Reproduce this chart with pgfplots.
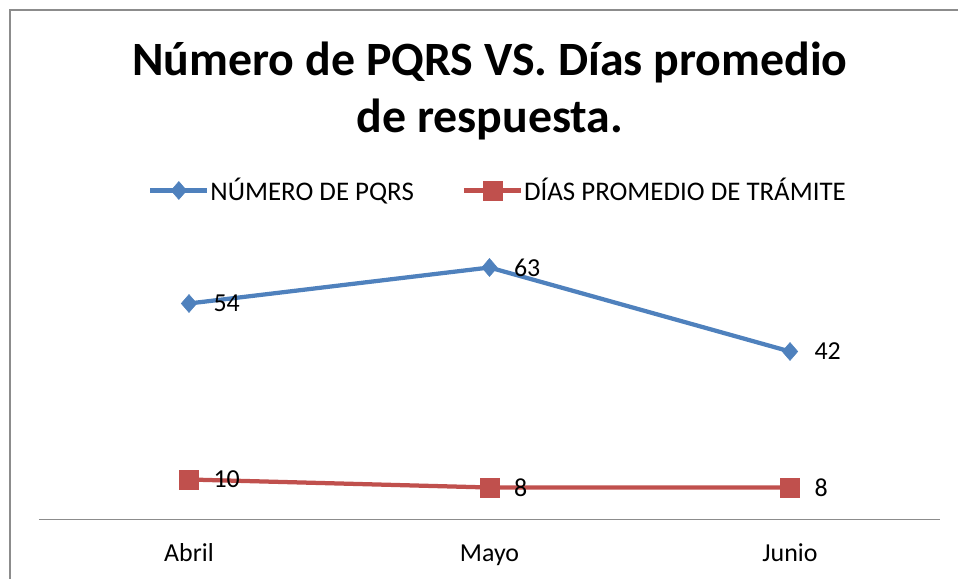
\documentclass[border=0pt]{standalone}
\usepackage{fontspec}
\setmainfont{Carlito}
\usepackage{pgfplots}
\pgfplotsset{compat=1.18}
\definecolor{cblue}{HTML}{4F81BD}
\definecolor{cred}{HTML}{C0504D}
\definecolor{framegray}{HTML}{8C8C8C}
\begin{document}
\begin{tikzpicture}[x=1bp,y=1bp]
\draw[color=framegray, line width=1.5bp] (10,-620) -- (10,-10) -- (990,-10);
\node[font=\fontsize{48}{58}\selectfont\bfseries, align=center] at (490,-91) {Número de PQRS VS. Días promedio\\de respuesta.};
\coordinate (O) at (38.75,-519.5);
\begin{axis}[
  at={(O)}, anchor=south west,
  x=300.5bp, y=4bp,
  xmin=-0.5, xmax=2.5, ymin=0, ymax=70,
  axis x line=bottom, axis y line=none,
  axis line style={-, draw=framegray, line width=1.5bp},
  xtick={0,1,2}, xticklabels={Abril,Mayo,Junio},
  major tick length=0pt,
  xticklabel style={anchor=base, yshift=-41.5bp, font=\fontsize{26}{30}\selectfont},
  clip=false,
  /pgf/number format/assume math mode=true,
  nodes near coords,
  every node near coord/.append style={anchor=west, xshift=21bp, text=black, font=\fontsize{26}{30}\selectfont},
  legend columns=2,
  legend style={at={(0.1212,1.175)}, anchor=west, draw=none, fill=none, inner sep=0pt,
    font=\fontsize{27}{32}\selectfont,
    nodes={inner sep=1bp},
    /tikz/every even column/.append style={column sep=47bp}},
  legend image code/.code={\draw[mark repeat=2,mark phase=2,#1] plot coordinates {(0bp,0bp) (28.5bp,0bp) (57bp,0bp)};},
]
\addplot[color=cblue, line width=4.25bp, mark=diamond*, mark size=9bp, mark options={solid, xscale=1.15, line width=0.5bp, fill=cblue}] coordinates {(0,54) (1,63) (2,42)};
\addlegendentry{NÚMERO DE PQRS}
\addplot[color=cred, line width=4.25bp, mark=square*, mark size=9.5bp, mark options={solid, line width=0.5bp, fill=cred}] coordinates {(0,10) (1,8) (2,8)};
\addlegendentry{DÍAS PROMEDIO DE TRÁMITE}
\end{axis}
\pgfresetboundingbox
\useasboundingbox (0,0) rectangle (958,-579);
\end{tikzpicture}
\end{document}
